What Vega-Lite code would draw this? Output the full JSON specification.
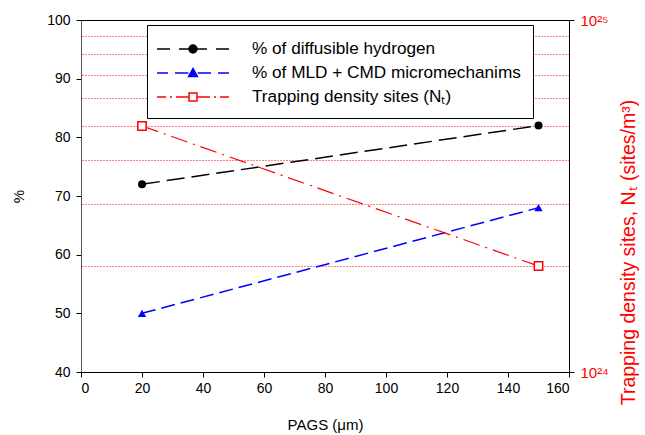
{
  "$schema": "https://vega.github.io/schema/vega-lite/v6.json",
  "width": 488,
  "height": 352,
  "autosize": {"type": "none"},
  "padding": {"left": 81, "top": 20, "right": 76, "bottom": 63},
  "background": "white",
  "config": {
    "view": {"stroke": "black", "strokeWidth": 1},
    "font": "Liberation Sans",
    "axis": {
      "labelFont": "Liberation Sans", "titleFont": "Liberation Sans",
      "labelFontSize": 14, "titleFontSize": 15, "titleFontWeight": "normal",
      "labelColor": "black", "titleColor": "black", "domainColor": "black",
      "tickColor": "black", "grid": false, "tickSize": 5, "domainWidth": 1
    }
  },
  "data": {
    "values": [
      {"series": "% of diffusible hydrogen", "pags": 20, "value": 72},
      {"series": "% of diffusible hydrogen", "pags": 150, "value": 82},
      {"series": "% of MLD + CMD micromechanims", "pags": 20, "value": 50},
      {"series": "% of MLD + CMD micromechanims", "pags": 150, "value": 68},
      {"series": "Trapping density sites (Nₜ)", "pags": 20, "value": 5e24},
      {"series": "Trapping density sites (Nₜ)", "pags": 150, "value": 2e24}
    ]
  },
  "layer": [
    {
      "encoding": {
        "x": {"field": "pags", "type": "quantitative",
          "scale": {"domain": [0, 160], "nice": false},
          "axis": {"values": [0, 20, 40, 60, 80, 100, 120, 140, 160], "title": "PAGS (μm)", "labelPadding": 4, "titlePadding": 22}},
        "y": {"field": "value", "type": "quantitative",
          "scale": {"domain": [40, 100], "nice": false, "zero": false},
          "axis": {"values": [40, 50, 60, 70, 80, 90, 100], "title": "%", "labelPadding": 6, "titlePadding": 20, "domainColor": "#555"}}
      },
      "layer": [
        {"transform": [{"filter": "datum.series == '% of diffusible hydrogen'"}],
         "mark": {"type": "line", "color": "black", "strokeWidth": 1.5, "strokeDash": [18, 7]}},
        {"transform": [{"filter": "datum.series == '% of diffusible hydrogen'"}],
         "mark": {"type": "point", "shape": "circle", "filled": true, "color": "black", "size": 64, "opacity": 1}},
        {"transform": [{"filter": "datum.series == '% of MLD + CMD micromechanims'"}],
         "mark": {"type": "line", "color": "blue", "strokeWidth": 1.5, "strokeDash": [14, 6]}},
        {"transform": [{"filter": "datum.series == '% of MLD + CMD micromechanims'"}],
         "mark": {"type": "point", "shape": "triangle-up", "filled": true, "color": "blue", "size": 70, "opacity": 1}},
        {"transform": [{"filter": "false"}],
         "mark": {"type": "point", "size": 484, "strokeWidth": 1.5, "opacity": 1},
         "encoding": {
           "shape": {"field": "series", "type": "nominal",
             "scale": {"domain": ["% of diffusible hydrogen", "% of MLD + CMD micromechanims", "Trapping density sites (Nₜ)"],
               "range": [
                 "M-3.27,0H-2.09M-1.27,0H-0.27M0.27,0H1.27M2.09,0H3.27M0.36,0A0.36,0.36,0,1,1,-0.36,0A0.36,0.36,0,1,1,0.36,0Z",
                 "M-3.27,0H-2.27M-1.64,0H-0.42M0.42,0H1.64M2.27,0H3.27M0,-0.4L0.4,0.32L-0.4,0.32Z",
                 "M-3.27,0H-2.45M-2.09,0H-1.91M-1.55,0H-0.36M0.36,0H1.55M1.91,0H2.09M2.45,0H3.27M-0.36,-0.36H0.36V0.36H-0.36Z"
               ]},
             "legend": {"title": null, "orient": "none", "legendX": 66, "legendY": 5, "padding": 12,
               "fillColor": "white", "strokeColor": "black", "symbolSize": 484, "symbolStrokeWidth": 1.5,
               "symbolOffset": 22, "labelOffset": 47, "labelFontSize": 17.2, "labelFont": "Liberation Sans",
               "labelColor": "black", "labelLimit": 400, "rowPadding": 3}},
           "fill": {"field": "series", "type": "nominal",
             "scale": {"domain": ["% of diffusible hydrogen", "% of MLD + CMD micromechanims", "Trapping density sites (Nₜ)"],
               "range": ["black", "blue", "white"]}},
           "stroke": {"field": "series", "type": "nominal",
             "scale": {"domain": ["% of diffusible hydrogen", "% of MLD + CMD micromechanims", "Trapping density sites (Nₜ)"],
               "range": ["black", "blue", "red"]}}
         }}
      ]
    },
    {
      "encoding": {
        "x": {"field": "pags", "type": "quantitative", "scale": {"domain": [0, 160], "nice": false}},
        "y": {"field": "value", "type": "quantitative",
          "scale": {"type": "log", "domain": [1e24, 1e25], "nice": false},
          "axis": {"orient": "right",
            "values": [1e24, 2e24, 3e24, 4e24, 5e24, 6e24, 7e24, 8e24, 9e24, 1e25],
            "labelExpr": "datum.value < 1.5e24 ? '10²⁴' : (datum.value > 9.5e24 ? '10²⁵' : '')",
            "labelColor": "red", "labelPadding": 6, "labelFontSize": 15,
            "title": "Trapping density sites, Nₜ (sites/m³)", "titleColor": "red", "titleAngle": -90, "titlePadding": 30, "titleFontSize": 19.5,
            "titleY": 232, "titleAlign": "center",
            "grid": true, "gridColor": "red", "gridDash": [1, 2], "gridWidth": 1,
            "gridOpacity": {"condition": {"test": "datum.value < 1.5e24 || datum.value > 9.5e24", "value": 0}, "value": 1},
            "tickOpacity": {"condition": {"test": "datum.value < 1.5e24 || datum.value > 9.5e24", "value": 1}, "value": 0}}}
      },
      "layer": [
        {"transform": [{"filter": "datum.series == 'Trapping density sites (Nₜ)'"}],
         "mark": {"type": "line", "color": "red", "strokeWidth": 1.2, "strokeDash": [17, 6, 2, 6]}},
        {"transform": [{"filter": "datum.series == 'Trapping density sites (Nₜ)'"}],
         "mark": {"type": "point", "shape": "square", "filled": true, "fill": "white", "stroke": "red", "strokeWidth": 1.5, "size": 70, "opacity": 1}}
      ]
    }
  ],
  "resolve": {"scale": {"y": "independent"}}
}
